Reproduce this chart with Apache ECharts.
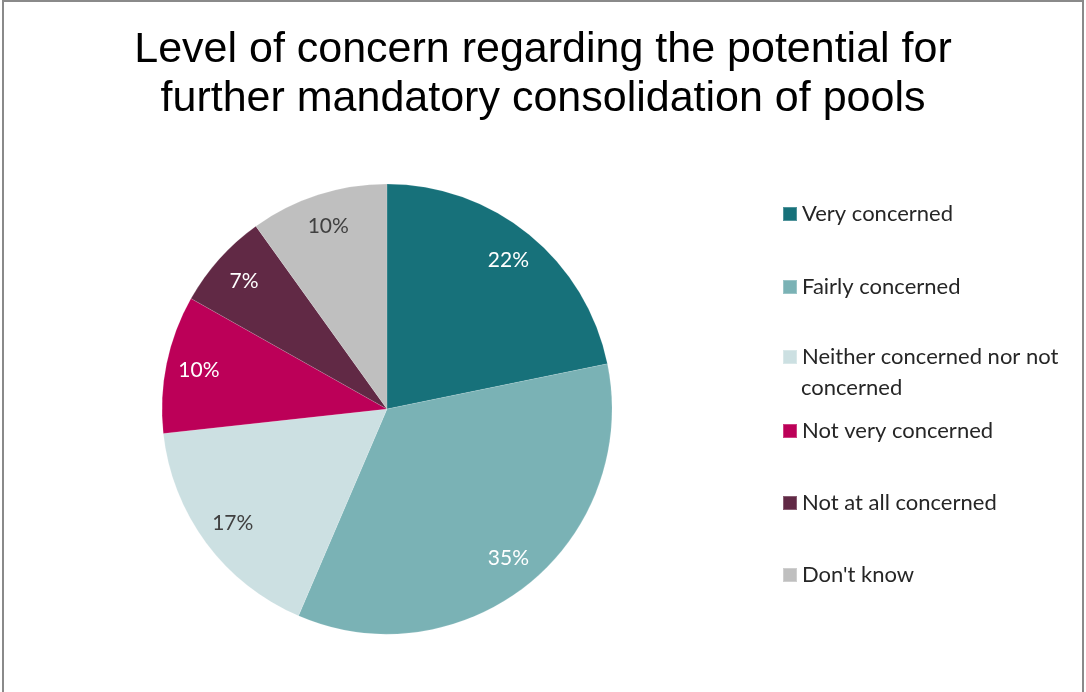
<!DOCTYPE html>
<html>
<head>
<meta charset="utf-8">
<script src="https://cdn.jsdelivr.net/npm/echarts@6/dist/echarts.min.js"></script>
<style>
  html, body { margin: 0; padding: 0; background: #fff; }
  #chart { width: 1086px; height: 692px; }
</style>
</head>
<body>
<div id="chart"></div>
<script>
// Survey answers and their shares (%)
const categories = [
  'Very concerned',
  'Fairly concerned',
  'Neither concerned nor not concerned',
  'Not very concerned',
  'Not at all concerned',
  "Don't know"
];
const shares = [22, 35, 17, 10, 7, 10];
const sliceColors = ['#17717a', '#7ab2b5', '#cce0e2', '#bc0058', '#612945', '#bfbfbf'];
const labelColors = ['#ffffff', '#ffffff', '#404040', '#ffffff', '#ffffff', '#404040'];

const chart = echarts.init(document.getElementById('chart'), null, { renderer: 'canvas' });

const CX = 387, CY = 409, R = 225;
const bodyFont = 'Lato, "Open Sans", sans-serif';
const legendFontSize = 22;

const pieData = categories.map((name, i) => ({
  name,
  value: shares[i],
  itemStyle: { color: sliceColors[i] }
}));

// Labels sit on an invisible ring so they land near the outer edge of each slice
const labelData = categories.map((name, i) => ({
  name,
  value: shares[i],
  itemStyle: { color: 'rgba(0,0,0,0)' },
  label: { color: labelColors[i] }
}));

// One legend per entry so each row can be placed on its own line
const legendTops = [198, 271, 341, 415, 487, 559];
const legends = categories.map((name, i) => ({
  data: [name],
  left: 777,
  top: legendTops[i],
  itemWidth: 14,
  itemHeight: 14,
  itemGap: 5,
  icon: 'rect',
  selectedMode: false,
  formatter: n => (n === 'Neither concerned nor not concerned' ? 'Neither concerned nor not' : n),
  textStyle: { fontFamily: bodyFont, fontSize: legendFontSize, color: '#262626' }
}));

chart.setOption({
  animation: false,
  backgroundColor: '#ffffff',
  title: {
    text: 'Level of concern regarding the potential for\nfurther mandatory consolidation of pools',
    left: 'center',
    top: 21,
    textStyle: {
      fontFamily: '"Liberation Sans", Arial, sans-serif',
      fontSize: 43,
      fontWeight: 'normal',
      color: '#000000',
      lineHeight: 49
    }
  },
  legend: legends,
  graphic: [
    {
      type: 'rect',
      silent: true,
      shape: { x: 3, y: 1, width: 1080, height: 740 },
      style: { fill: 'none', stroke: '#8a8a8a', lineWidth: 2 }
    },
    {
      // second line of the wrapped legend entry
      type: 'text',
      left: 801,
      top: 377,
      silent: true,
      style: { text: 'concerned', font: legendFontSize + 'px ' + bodyFont, fill: '#262626' }
    }
  ],
  series: [
    {
      type: 'pie',
      center: [CX, CY],
      radius: [0, R],
      startAngle: 90,
      clockwise: true,
      silent: true,
      label: { show: false },
      labelLine: { show: false },
      itemStyle: { borderColor: 'rgba(255,255,255,0.25)', borderWidth: 0.5 },
      data: pieData
    },
    {
      type: 'pie',
      center: [CX, CY],
      radius: [R * 0.68, R],
      startAngle: 90,
      clockwise: true,
      silent: true,
      legendHoverLink: false,
      label: {
        show: true,
        position: 'inside',
        formatter: p => p.value + '%',
        fontFamily: bodyFont,
        fontSize: 21
      },
      labelLine: { show: false },
      data: labelData
    }
  ]
});
</script>
</body>
</html>
